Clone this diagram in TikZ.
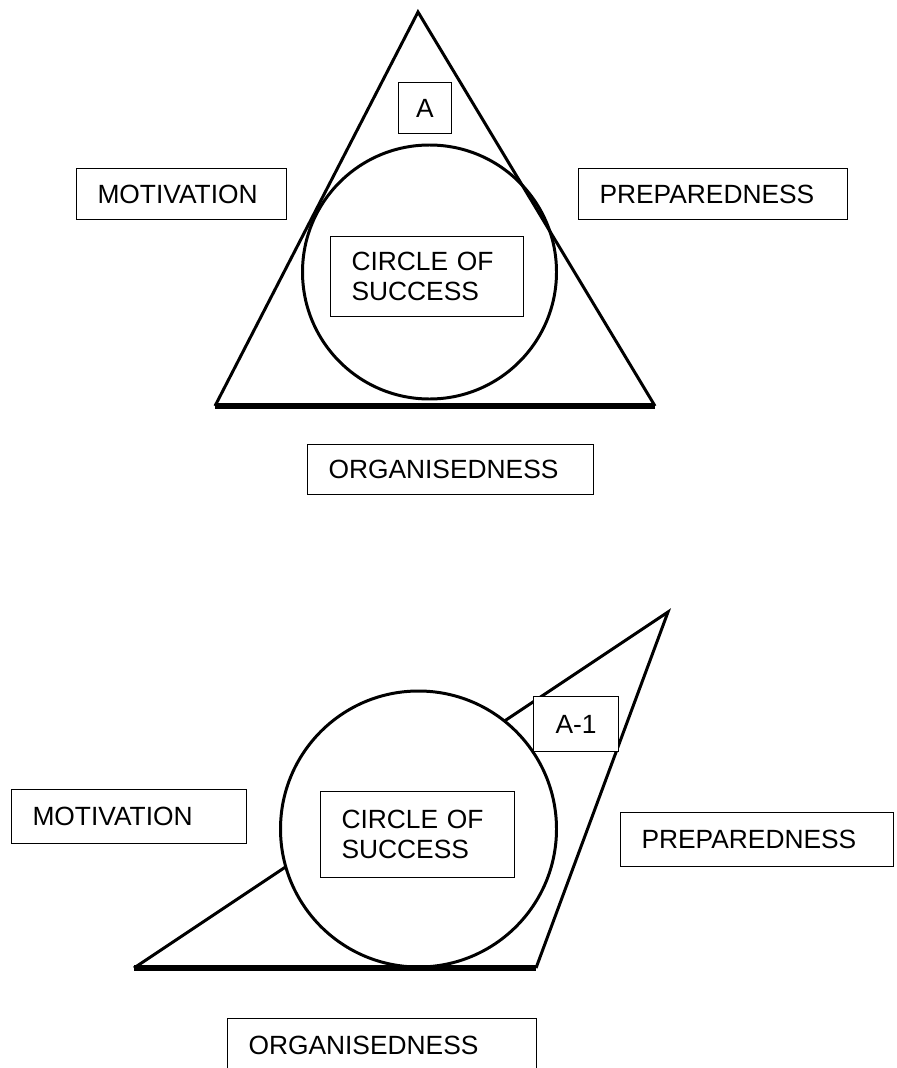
\documentclass[tikz,border=0pt]{standalone}
\usepackage{fontspec}
\setmainfont{Liberation Sans}
\tikzset{
  box/.style={draw, line width=.6pt, fill=white, anchor=north west, inner xsep=.42cm,
    inner ysep=0pt, align=left, font=\fontsize{15}{17}\selectfont},
  side/.style={line width=1.7pt},
  base/.style={line width=3.4pt}
}
\begin{document}
\begin{tikzpicture}[x=.02cm, y=-.02cm]
   \useasboundingbox (0,0) rectangle (896,1068);
   \clip (0,0) rectangle (896,1068);

   % upper triangle
   \coordinate (T) at (418,12);
   \coordinate (L) at (215,406);
   \coordinate (R) at (655,406);
   \draw[side] (L) -- (T) -- (R);
   \draw[side] (429.5,272) circle[radius=127];
   \draw[base] (L) -- (R);

   \node[box, inner xsep=0pt, align=center, minimum width=1.06cm, minimum height=1.02cm] (A) at (398,82) {A};
   \node[box, text width=3.36cm, minimum height=1.02cm] (M) at (76,168) {MOTIVATION};
   \node[box, text width=4.54cm, minimum height=1.02cm] (P) at (578,168) {PREPAREDNESS};
   \node[box, text width=3.02cm, minimum height=1.6cm] (C) at (330,236) {CIRCLE OF\\SUCCESS};
   \node[box, text width=4.88cm, minimum height=1cm] (O) at (307,444) {ORGANISEDNESS};

   % lower triangle
   \coordinate (T2) at (668,612);
   \coordinate (L2) at (134,968);
   \coordinate (R2) at (536,968);
   \draw[side] (L2) -- (T2) -- (R2);
   \draw[side, fill=white] (418.5,829) circle[radius=138];
   \draw[base] (L2) -- (R2);

   \node[box, inner xsep=0pt, align=center, minimum width=1.7cm, minimum height=1.1cm] (A2) at (533,696) {A-1};
   \node[box, text width=3.86cm, minimum height=1.08cm] (M2) at (11,789) {MOTIVATION};
   \node[box, text width=3.04cm, minimum height=1.72cm] (C2) at (320,791) {CIRCLE OF\\SUCCESS};
   \node[box, text width=4.62cm, minimum height=1.08cm] (P2) at (620,812) {PREPAREDNESS};
   \node[box, text width=5.34cm, minimum height=1.08cm] (O2) at (227,1018) {ORGANISEDNESS};
\end{tikzpicture}
\end{document}
